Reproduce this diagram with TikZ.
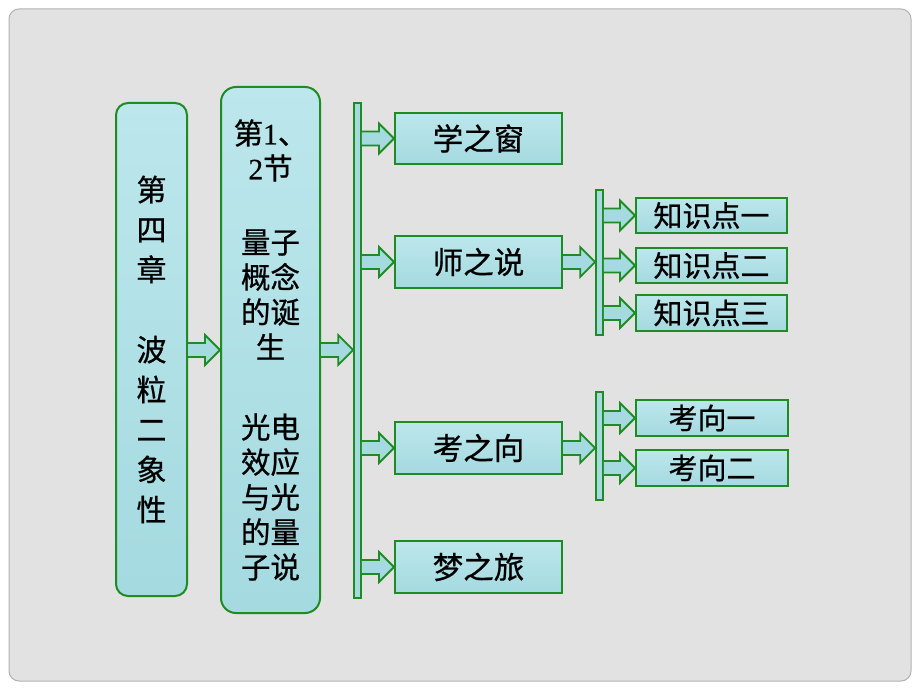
\documentclass[tikz,border=0pt]{standalone}
\usepackage{fontspec}
\setmainfont[FakeBold=0.7]{Noto Sans CJK SC}
\newfontfamily\numfont[FakeBold=0.5]{Liberation Serif}
\usetikzlibrary{calc}
\definecolor{gborder}{RGB}{30,140,35}
\definecolor{aqua}{RGB}{164,218,224}
\definecolor{aquatop}{RGB}{188,231,236}
\definecolor{bggray}{RGB}{226,226,226}
\definecolor{framegray}{RGB}{178,178,178}
\newcommand\barr[2]{\draw[arr] ($(#1)+(0,-7)$) -- ($(#2)+(-15,-7)$) -- ($(#2)+(-15,-15)$) -- (#2) -- ($(#2)+(-15,15)$) -- ($(#2)+(-15,7)$) -- ($(#1)+(0,7)$);}
\begin{document}
\begin{tikzpicture}[x=1pt,y=-1pt,
  box/.style={draw=gborder,line width=2pt,top color=aquatop,bottom color=aqua,inner sep=0pt,align=center},
  bigbox/.style={box,font=\fontsize{30.5}{30.5}\selectfont},
  smallbox/.style={box,font=\fontsize{29}{29}\selectfont},
  barbox/.style={draw=gborder,line width=1.6pt,fill=aqua,inner sep=0pt,minimum width=7pt},
  arr/.style={draw=gborder,line width=1.8pt,fill=aqua,line join=miter}
]
\fill[white] (0,0) rectangle (920,690);
\useasboundingbox (0,0) rectangle (920,690);
\draw[framegray,line width=1pt,fill=bggray,rounded corners=10pt] (9,9) rectangle (911,681);

% level 1 and 2
\node[box,rounded corners=12pt,minimum width=71pt,minimum height=493pt,
  font=\fontsize{30}{40}\selectfont] (b1) at (151.5,349.5)
  {第\\四\\章\\[40pt]波\\粒\\二\\象\\性};
\node[box,rounded corners=15pt,minimum width=99pt,minimum height=526pt,
  font=\fontsize{29.5}{35}\selectfont] (b2) at (270.5,350)
  {第{\numfont 1}、\\{\numfont 2}节\\[39pt]量子\\概念\\的诞\\生\\[45pt]光电\\效应\\与光\\的量\\子说};
\node[barbox,minimum height=495pt] (bar1) at (357.5,350.5) {};

% level 3
\node[bigbox,minimum width=167pt,minimum height=51pt] (xzc) at (478.5,138.5) {学之窗};
\node[bigbox,minimum width=167pt,minimum height=52pt] (szs) at (478.5,262) {师之说};
\node[bigbox,minimum width=167pt,minimum height=52pt] (kzx) at (478.5,448) {考之向};
\node[bigbox,minimum width=167pt,minimum height=52pt] (mzl) at (478.5,567) {梦之旅};

% level 4
\node[barbox,minimum height=145pt] (bar2) at (599.5,262.5) {};
\node[smallbox,minimum width=151pt,minimum height=35pt] (k1) at (711.5,215.5) {知识点一};
\node[smallbox,minimum width=151pt,minimum height=35pt] (k2) at (711.5,265.5) {知识点二};
\node[smallbox,minimum width=151pt,minimum height=36pt] (k3) at (711.5,313) {知识点三};
\node[barbox,minimum height=108pt] (bar3) at (599.5,446) {};
\node[smallbox,minimum width=152pt,minimum height=36pt] (x1) at (712,418) {考向一};
\node[smallbox,minimum width=152pt,minimum height=36pt] (x2) at (712,468) {考向二};

% arrow end points
\coordinate (a1s) at (b1.east |- b2.west);
\coordinate (a2t) at (bar1.west |- b2.east);
\coordinate (s1) at (bar1.east |- xzc.west);
\coordinate (s2) at (bar1.east |- szs.west);
\coordinate (s3) at (bar1.east |- kzx.west);
\coordinate (s4) at (bar1.east |- mzl.west);
\coordinate (t5) at (bar2.west |- szs.east);
\coordinate (s6) at (bar2.east |- k1.west);
\coordinate (s7) at (bar2.east |- k2.west);
\coordinate (s8) at (bar2.east |- k3.west);
\coordinate (t9) at (bar3.west |- kzx.east);
\coordinate (s10) at (bar3.east |- x1.west);
\coordinate (s11) at (bar3.east |- x2.west);

\barr{a1s}{b2.west}
\barr{b2.east}{a2t}
\barr{s1}{xzc.west}
\barr{s2}{szs.west}
\barr{s3}{kzx.west}
\barr{s4}{mzl.west}
\barr{szs.east}{t5}
\barr{s6}{k1.west}
\barr{s7}{k2.west}
\barr{s8}{k3.west}
\barr{kzx.east}{t9}
\barr{s10}{x1.west}
\barr{s11}{x2.west}
\end{tikzpicture}
\end{document}
